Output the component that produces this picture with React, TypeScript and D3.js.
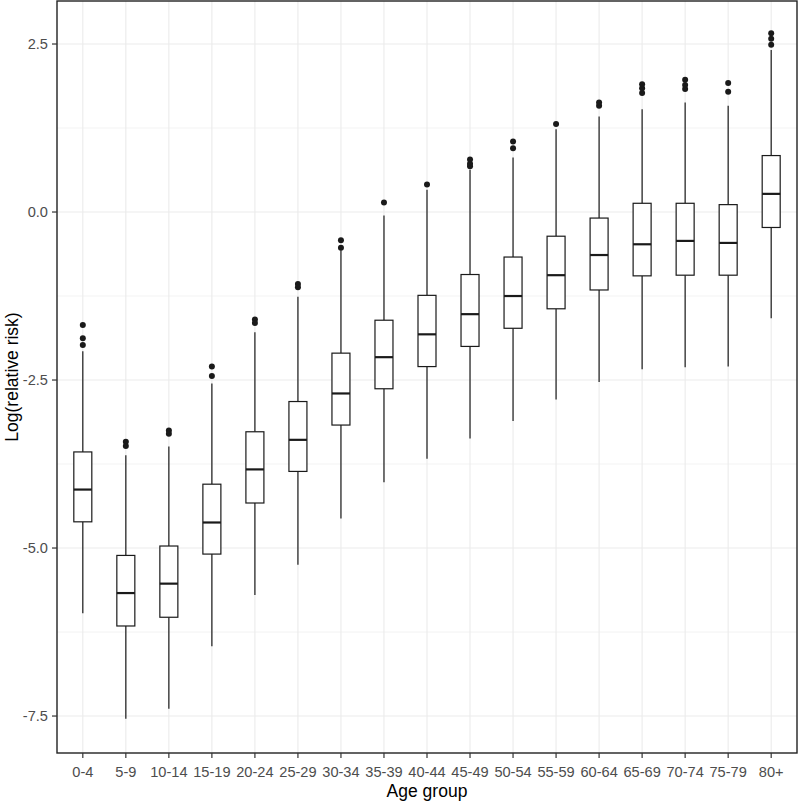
import React from "react";
import * as d3 from "d3";

const categories = ["0-4","5-9","10-14","15-19","20-24","25-29","30-34","35-39","40-44","45-49","50-54","55-59","60-64","65-69","70-74","75-79","80+"];
const whiskerLow = [-5.97,-7.54,-7.39,-6.46,-5.70,-5.25,-4.56,-4.02,-3.67,-3.37,-3.11,-2.79,-2.53,-2.34,-2.31,-2.30,-1.58];
const q1 = [-4.61,-6.16,-6.03,-5.09,-4.33,-3.86,-3.17,-2.63,-2.30,-2.00,-1.73,-1.44,-1.16,-0.95,-0.94,-0.94,-0.23];
const median = [-4.13,-5.67,-5.53,-4.62,-3.83,-3.39,-2.70,-2.16,-1.82,-1.52,-1.25,-0.94,-0.64,-0.48,-0.43,-0.46,0.27];
const q3 = [-3.57,-5.11,-4.97,-4.05,-3.27,-2.82,-2.10,-1.61,-1.24,-0.93,-0.67,-0.36,-0.09,0.13,0.13,0.11,0.84];
const whiskerHigh = [-2.07,-3.62,-3.49,-2.55,-1.79,-1.26,-0.57,-0.05,0.33,0.63,0.81,1.23,1.42,1.53,1.63,1.58,2.41];
const outliers = [
  [-1.68,-1.88,-1.98],
  [-3.42,-3.48],
  [-3.25,-3.30],
  [-2.30,-2.44],
  [-1.60,-1.65],
  [-1.07,-1.12],
  [-0.42,-0.53],
  [0.14],
  [0.41],
  [0.68,0.72,0.78],
  [0.95,1.05],
  [1.31],
  [1.58,1.63],
  [1.77,1.84,1.90],
  [1.83,1.89,1.97],
  [1.79,1.92],
  [2.49,2.58,2.66],
];
const yTicks = [-7.5, -5.0, -2.5, 0.0, 2.5];
const yMinor = [-6.25, -3.75, -1.25, 1.25];

const W = 800, H = 801;
const L = 57, R = 797, T = 1, B = 753;
const FONT = "'Liberation Sans', Arial, sans-serif";

export default function App() {
  const x = d3.scalePoint<string>().domain(categories).range([L, R]).padding(0.6);
  const y = d3.scaleLinear().domain([-8.05, 3.14]).range([B, T]);
  const bw = 18;
  return (
    <svg width={W} height={H} style={{ position: "absolute", left: 0, top: 0, background: "#fff" }}>
      <rect x={L} y={T} width={R - L} height={B - T} fill="#fff" />
      {yMinor.map((v) => (
        <line key={"mn" + v} x1={L} x2={R} y1={y(v)} y2={y(v)} stroke="#ebebeb" strokeWidth={0.6} />
      ))}
      {yTicks.map((v) => (
        <line key={"mj" + v} x1={L} x2={R} y1={y(v)} y2={y(v)} stroke="#ebebeb" strokeWidth={1.1} />
      ))}
      {categories.map((c) => (
        <line key={"vx" + c} x1={x(c)} x2={x(c)} y1={T} y2={B} stroke="#ebebeb" strokeWidth={1.1} />
      ))}
      {categories.map((c, i) => {
        const cx = x(c) as number;
        return (
          <g key={"b" + c}>
            <line x1={cx} x2={cx} y1={y(q3[i])} y2={y(whiskerHigh[i])} stroke="#1a1a1a" strokeWidth={1.2} />
            <line x1={cx} x2={cx} y1={y(q1[i])} y2={y(whiskerLow[i])} stroke="#1a1a1a" strokeWidth={1.2} />
            <rect x={cx - bw / 2} y={y(q3[i])} width={bw} height={y(q1[i]) - y(q3[i])} fill="#fff" stroke="#1a1a1a" strokeWidth={1.2} />
            <line x1={cx - bw / 2} x2={cx + bw / 2} y1={y(median[i])} y2={y(median[i])} stroke="#1a1a1a" strokeWidth={2.2} />
            {outliers[i].map((o, j) => (
              <circle key={j} cx={cx} cy={y(o)} r={3} fill="#1a1a1a" />
            ))}
          </g>
        );
      })}
      <rect x={L} y={T} width={R - L} height={B - T} fill="none" stroke="#222" strokeWidth={1.4} />
      {yTicks.map((v) => (
        <g key={"yt" + v}>
          <line x1={L - 5} x2={L} y1={y(v)} y2={y(v)} stroke="#333" strokeWidth={1.2} />
          <text x={L - 9} y={y(v)} dy="0.36em" textAnchor="end" fontFamily={FONT} fontSize={14.6} fill="#4d4d4d">
            {v.toFixed(1)}
          </text>
        </g>
      ))}
      {categories.map((c) => (
        <g key={"xt" + c}>
          <line x1={x(c)} x2={x(c)} y1={B} y2={B + 5} stroke="#333" strokeWidth={1.2} />
          <text x={x(c)} y={776.5} textAnchor="middle" fontFamily={FONT} fontSize={14.6} fill="#4d4d4d">
            {c}
          </text>
        </g>
      ))}
      <text x={(L + R) / 2} y={797} textAnchor="middle" fontFamily={FONT} fontSize={17.5} fill="#000">
        Age group
      </text>
      <text transform={`translate(18,${(T + B) / 2}) rotate(-90)`} textAnchor="middle" fontFamily={FONT} fontSize={17.5} fill="#000">
        Log(relative risk)
      </text>
    </svg>
  );
}
